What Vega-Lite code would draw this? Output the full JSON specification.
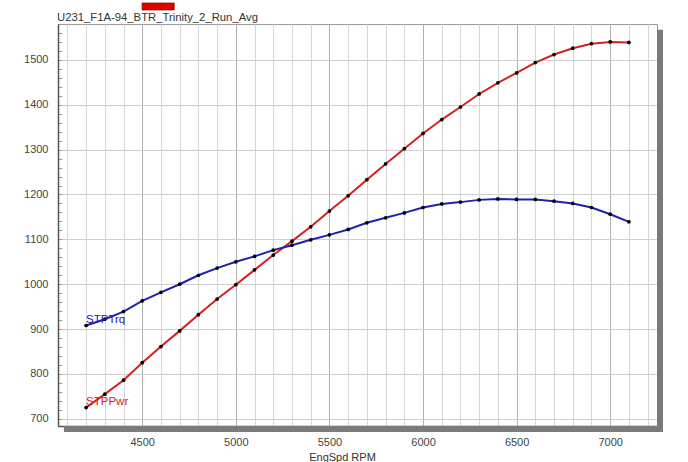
{
  "$schema": "https://vega.github.io/schema/vega-lite/v6.json",
  "width": 599,
  "height": 402,
  "autosize": {"type": "none"},
  "padding": {"left": 58, "top": 24, "right": 31, "bottom": 36},
  "background": "white",
  "config": {
    "view": {"stroke": "#9a9a9a", "strokeWidth": 1},
    "font": "Liberation Sans",
    "axis": {
      "labelFont": "Liberation Sans",
      "labelFontSize": 11,
      "labelColor": "#444",
      "titleFont": "Liberation Sans",
      "titleFontSize": 11,
      "titleFontWeight": "normal",
      "titleColor": "#333",
      "domainColor": "#555",
      "domainWidth": 1.5
    }
  },
  "datasets": {
    "dyno": [
      {"rpm": 4200, "STPPwr": 725, "STPTrq": 908},
      {"rpm": 4300, "STPPwr": 755, "STPTrq": 922},
      {"rpm": 4400, "STPPwr": 786, "STPTrq": 939},
      {"rpm": 4500, "STPPwr": 825, "STPTrq": 963},
      {"rpm": 4600, "STPPwr": 861, "STPTrq": 982},
      {"rpm": 4700, "STPPwr": 896, "STPTrq": 1000},
      {"rpm": 4800, "STPPwr": 932, "STPTrq": 1020},
      {"rpm": 4900, "STPPwr": 967, "STPTrq": 1036},
      {"rpm": 5000, "STPPwr": 999, "STPTrq": 1050},
      {"rpm": 5100, "STPPwr": 1032, "STPTrq": 1062},
      {"rpm": 5200, "STPPwr": 1065, "STPTrq": 1076},
      {"rpm": 5300, "STPPwr": 1096, "STPTrq": 1087},
      {"rpm": 5400, "STPPwr": 1128, "STPTrq": 1099},
      {"rpm": 5500, "STPPwr": 1163, "STPTrq": 1110},
      {"rpm": 5600, "STPPwr": 1197, "STPTrq": 1122},
      {"rpm": 5700, "STPPwr": 1233, "STPTrq": 1137},
      {"rpm": 5800, "STPPwr": 1268, "STPTrq": 1148},
      {"rpm": 5900, "STPPwr": 1302, "STPTrq": 1159},
      {"rpm": 6000, "STPPwr": 1336, "STPTrq": 1171},
      {"rpm": 6100, "STPPwr": 1367, "STPTrq": 1179},
      {"rpm": 6200, "STPPwr": 1395, "STPTrq": 1183},
      {"rpm": 6300, "STPPwr": 1424, "STPTrq": 1188},
      {"rpm": 6400, "STPPwr": 1449, "STPTrq": 1190},
      {"rpm": 6500, "STPPwr": 1471, "STPTrq": 1189},
      {"rpm": 6600, "STPPwr": 1494, "STPTrq": 1189},
      {"rpm": 6700, "STPPwr": 1512, "STPTrq": 1185},
      {"rpm": 6800, "STPPwr": 1526, "STPTrq": 1180},
      {"rpm": 6900, "STPPwr": 1536, "STPTrq": 1171},
      {"rpm": 7000, "STPPwr": 1540, "STPTrq": 1156},
      {"rpm": 7100, "STPPwr": 1539, "STPTrq": 1139}
    ]
  },
  "layer": [
    {
      "data": {"values": [{}]},
      "mark": {"type": "rect", "fill": "#7a7a7a"},
      "encoding": {
        "x": {"datum": 4082, "type": "quantitative", "scale": {"domain": [4050, 7250]}},
        "x2": {"datum": 7282},
        "y": {"datum": 684, "type": "quantitative", "scale": {"domain": [684, 1580]}},
        "y2": {"datum": 670.6}
      }
    },
    {
      "data": {"values": [{}]},
      "mark": {"type": "rect", "fill": "#7a7a7a"},
      "encoding": {
        "x": {"datum": 7250, "type": "quantitative"},
        "x2": {"datum": 7282},
        "y": {"datum": 1567, "type": "quantitative"},
        "y2": {"datum": 670.6}
      }
    },
    {
      "data": {"values": [{}]},
      "mark": {"type": "rect", "fill": "#e00000", "stroke": "#700000", "strokeWidth": 0.6},
      "encoding": {
        "x": {"datum": 4499, "type": "quantitative"},
        "x2": {"datum": 4671},
        "y": {"datum": 1611, "type": "quantitative"},
        "y2": {"datum": 1627}
      }
    },
    {
      "data": {"values": [{"name": "U231_F1A-94_BTR_Trinity_2_Run_Avg"}]},
      "mark": {"type": "text", "align": "left", "baseline": "bottom", "dy": -1, "dx": -1, "fontSize": 11.3, "font": "Liberation Sans", "color": "#333"},
      "encoding": {
        "x": {"datum": 4050, "type": "quantitative"},
        "y": {"datum": 1580, "type": "quantitative"},
        "text": {"field": "name"}
      }
    },
    {
      "data": {"name": "dyno"},
      "transform": [{"fold": ["STPPwr", "STPTrq"], "as": ["series", "value"]}],
      "layer": [
        {
          "mark": {"type": "line", "strokeWidth": 2, "clip": true},
          "encoding": {
            "x": {
              "field": "rpm",
              "type": "quantitative",
              "scale": {"domain": [4050, 7250], "nice": false, "zero": false},
              "axis": {
                "title": "EngSpd RPM",
                "titleX": 284,
                "titleY": 25,
                "titleAlign": "center",
                "values": [4100, 4200, 4300, 4400, 4500, 4600, 4700, 4800, 4900, 5000, 5100, 5200, 5300, 5400, 5500, 5600, 5700, 5800, 5900, 6000, 6100, 6200, 6300, 6400, 6500, 6600, 6700, 6800, 6900, 7000, 7100, 7200],
                "tickCount": 200,
                "format": "d",
                "labelExpr": "datum.value % 500 === 0 ? datum.label : ''",
                "ticks": false,
                "labelPadding": 10,
                "grid": true,
                "gridColor": {"condition": {"test": "datum.value % 500 === 0", "value": "#b0b0b0"}, "value": "#d6d6d6"},
                "gridWidth": 1
              }
            },
            "y": {
              "field": "value",
              "type": "quantitative",
              "scale": {"domain": [684, 1580], "nice": false, "zero": false},
              "axis": {
                "title": null,
                "values": [700, 720, 740, 760, 780, 800, 820, 840, 860, 880, 900, 920, 940, 960, 980, 1000, 1020, 1040, 1060, 1080, 1100, 1120, 1140, 1160, 1180, 1200, 1220, 1240, 1260, 1280, 1300, 1320, 1340, 1360, 1380, 1400, 1420, 1440, 1460, 1480, 1500, 1520, 1540, 1560, 1580],
                "tickCount": 200,
                "format": "d",
                "labelExpr": "datum.value % 100 === 0 ? datum.label : ''",
                "tickSize": -4,
                "tickColor": "#999",
                "labelPadding": 14,
                "grid": true,
                "gridColor": "#cfcfcf",
                "gridOpacity": {"condition": {"test": "datum.value % 100 === 0", "value": 1}, "value": 0}
              }
            },
            "color": {
              "field": "series",
              "type": "nominal",
              "scale": {"domain": ["STPPwr", "STPTrq"], "range": ["#d42020", "#2020b0"]},
              "legend": null
            }
          }
        },
        {
          "mark": {"type": "point", "filled": true, "size": 14, "color": "black", "opacity": 1},
          "encoding": {
            "x": {"field": "rpm", "type": "quantitative"},
            "y": {"field": "value", "type": "quantitative"},
            "detail": {"field": "series"}
          }
        },
        {
          "transform": [{"filter": "datum.rpm === 4200"}],
          "mark": {"type": "text", "align": "left", "baseline": "middle", "dy": -6, "fontSize": 11.5, "font": "Liberation Sans"},
          "encoding": {
            "x": {"field": "rpm", "type": "quantitative"},
            "y": {"field": "value", "type": "quantitative"},
            "text": {"field": "series"},
            "color": {
              "field": "series",
              "type": "nominal",
              "scale": {"domain": ["STPPwr", "STPTrq"], "range": ["#d42020", "#2020b0"]},
              "legend": null
            }
          }
        }
      ]
    }
  ]
}
